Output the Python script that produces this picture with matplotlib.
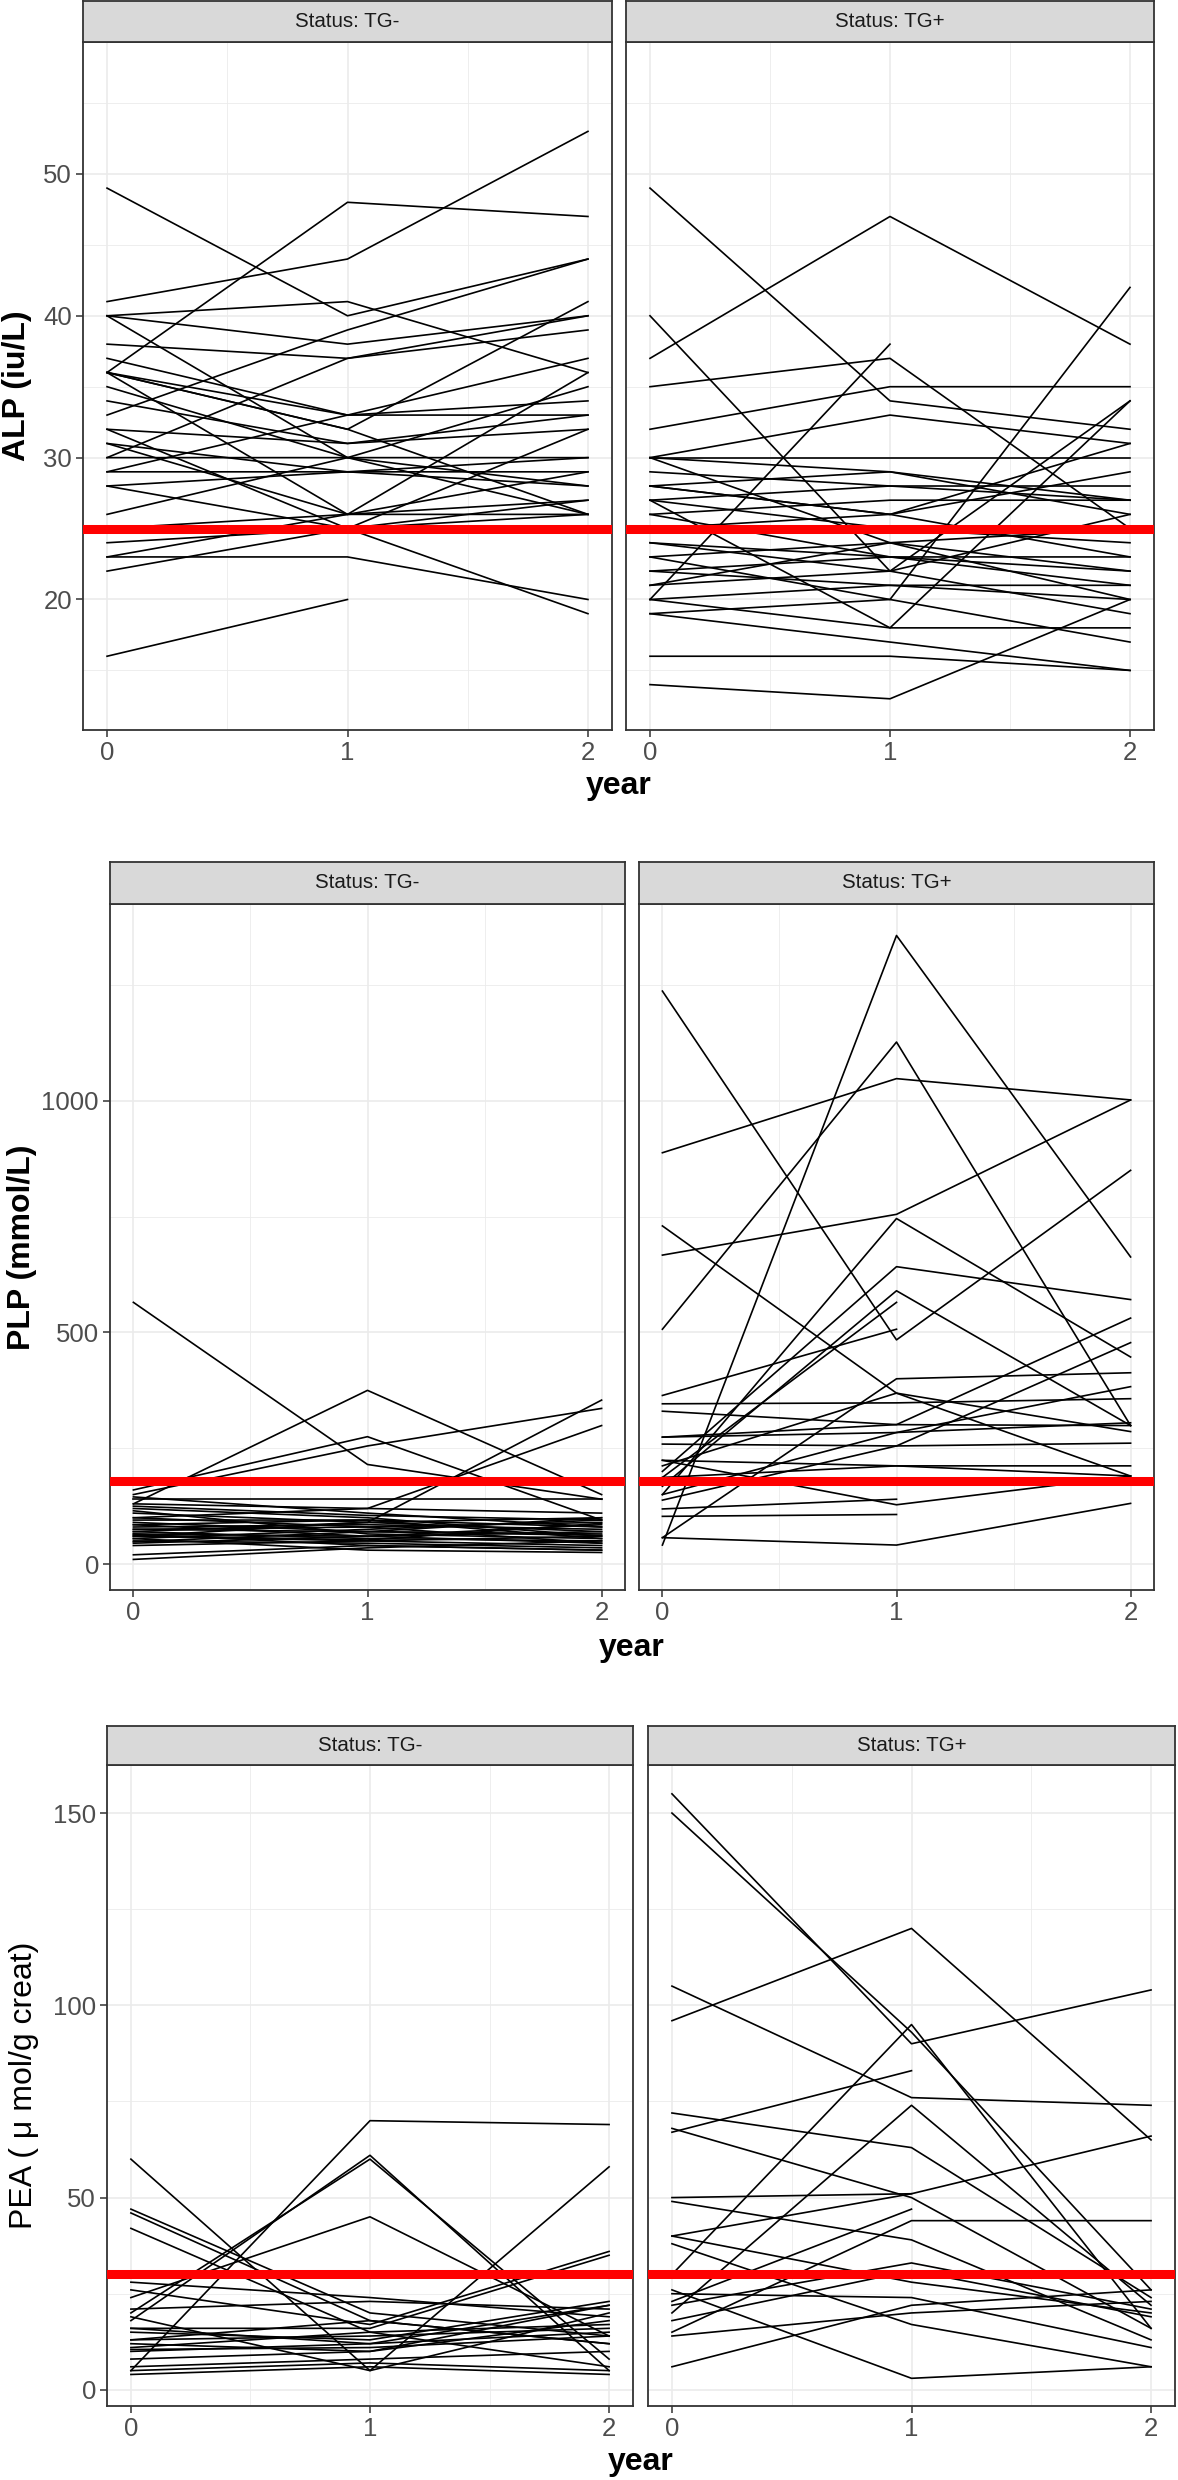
import numpy as np
import matplotlib
matplotlib.use("Agg")
import matplotlib.pyplot as plt

plt.rcParams['font.family'] = ['Liberation Sans', 'DejaVu Sans']

nan = np.nan
years = [0, 1, 2]
facets = ["Status: TG-", "Status: TG+"]

# one row per animal: value at year 0, 1, 2
alp_neg = [[36, 48, 47], [41, 44, 53], [49, 40, 44], [33, 39, 44], [40, 41, 36],
           [40, 38, 40], [38, 37, 39], [36, 32, 41], [30, 37, 40], [37, 33, 37],
           [36, 33, 34], [36, 32, 26], [35, 30, 26], [40, 30, 35], [34, 31, 33],
           [32, 31, 32], [32, 25, 19], [31, 29, 30], [30, 30, 28], [29, 29, 28],
           [28, 25, 27], [28, 29, 29], [26, 30, 30], [25, 26, 27], [24, 25, 26],
           [23, 26, 26], [23, 23, 20], [22, 25, 32], [16, 20, nan], [31, 26, 36],
           [36, 26, 29], [29, 33, 33]]
alp_pos = [[37, 47, 38], [49, 34, 32], [40, 22, 34], [20, 38, nan], [35, 37, 25],
           [32, 35, 35], [30, 33, 31], [23, 20, 42], [14, 13, 20], [16, 16, 15],
           [19, 17, 15], [20, 18, 18], [30, 30, 30], [27, 18, 34], [30, 29, 27],
           [28, 29, 26], [28, 26, 29], [27, 28, 28], [30, 24, 22], [27, 25, 24],
           [26, 23, 21], [24, 22, 19], [23, 24, 25], [22, 23, 23], [21, 22, 26],
           [20, 21, 20], [19, 20, 17], [28, 26, 31], [26, 27, 27], [25, 26, 23],
           [24, 23, 22], [22, 21, 21], [29, 28, 27], [21, 24, 20]]

plp_neg = [[565, 215, 140], [130, 375, 150], [160, 275, 95], [150, 255, 336],
           [60, 90, 354], [100, 120, 299], [140, 140, 140], [145, 110, 80],
           [120, 100, 60], [110, 90, 70], [100, 80, 90], [95, 95, 55],
           [90, 70, 100], [85, 60, 45], [80, 85, 75], [75, 70, 65], [70, 55, 50],
           [65, 60, 85], [60, 50, 40], [55, 75, 95], [50, 45, 35], [45, 60, 70],
           [40, 50, 60], [20, 40, 30], [10, 35, 50], [70, 90, 100],
           [130, 120, 110], [55, 30, 25], [85, 95, 80], [65, 40, 30],
           [125, 105, 95], [115, 65, 55], [75, 80, 45], [62, 52, 88], [48, 70, 62]]
plp_pos = [[1237, 484, 850], [888, 1048, 1002], [667, 755, 1002], [41, 1357, 663],
           [507, 1127, 299], [730, 369, 190], [150, 746, 447], [200, 642, 571],
           [168, 590, 299], [187, 565, nan], [364, 507, nan], [57, 400, 413],
           [346, 348, 357], [330, 301, 531], [274, 284, 383], [259, 255, 478],
           [224, 212, 190], [212, 369, 286], [138, 255, 261], [119, 140, nan],
           [103, 107, nan], [57, 41, 131], [224, 128, 190], [150, 284, 305],
           [187, 212, 212], [274, 301, 299]]

pea_neg = [[5, 70, 69], [18, 61, 5], [20, 60, 8], [24, 45, 14], [60, 5, 20],
           [47, 20, 14], [46, 18, 12], [42, 15, 6], [28, 24, 19], [26, 17, 36],
           [21, 23, 21], [19, 5, 58], [16, 16, 35], [15, 13, 23], [13, 18, 12],
           [12, 10, 18], [11, 15, 17], [10.5, 11, 14], [6, 8, 10], [5, 7, 5],
           [4, 6, 4], [16, 12, 22], [13, 14, 16], [10, 12, 15], [8, 10, 22]]
pea_pos = [[155, 90, 104], [150, 93, 26], [30, 95, 16], [96, 120, 65],
           [105, 76, 74], [72, 63, 24], [68, 50, 16], [67, 83, nan], [20, 74, 22],
           [50, 51, 66], [49, 39, 13], [40, 51, nan], [15, 44, 44], [6, 22, 26],
           [38, 17, 6], [26, 3, 6], [23, 47, nan], [22, 33, 21], [18, 31, 19],
           [40, 28, 20], [14, 20, 23], [25, 24, 11]]

cutoffs = [25, 180, 30]
ylabels = ["ALP (iu/L)", "PLP (mmol/L)", "PEA ( \u03bc mol/g creat)"]
ylabel_bold = [True, True, False]
yticks = [[20, 30, 40, 50], [0, 500, 1000], [0, 50, 100, 150]]
yminor = [[15, 25, 35, 45, 55], [250, 750, 1250], [25, 75, 125]]
ylims = [(10.8, 59.3), (-56, 1425), (-4.2, 162.5)]

# layout in pixels: (left_neg, right_neg, left_pos, right_pos, strip_top, panel_top, panel_bottom)
boxes = [(83, 612, 626, 1154, 1, 42, 730),
         (110, 625, 639, 1154, 862, 904, 1590),
         (107, 633, 648, 1175, 1726, 1765, 2406)]
ylab_x = [17, 22, 24]
xlab_y = [786, 1648, 2462]

W, H = 1178, 2480
fig = plt.figure(figsize=(W / 100, H / 100), dpi=100)

def fx(x):
    return x / W

def fy(y):
    return 1 - y / H

data = [(alp_neg, alp_pos), (plp_neg, plp_pos), (pea_neg, pea_pos)]

for i, (neg, pos) in enumerate(data):
    l0, r0, l1, r1, st, pt, pb = boxes[i]
    for j, (rows, (l, r)) in enumerate(zip([neg, pos], [(l0, r0), (l1, r1)])):
        ax = fig.add_axes([fx(l), fy(pb), fx(r - l), (pb - pt) / H])
        ax.set_xlim(-0.1, 2.1)
        ax.set_ylim(*ylims[i])
        for v in [0.5, 1.5]:
            ax.axvline(v, color='#EBEBEB', lw=0.6, zorder=0)
        for v in yminor[i]:
            ax.axhline(v, color='#EBEBEB', lw=0.6, zorder=0)
        for v in years:
            ax.axvline(v, color='#EBEBEB', lw=1.2, zorder=0)
        for v in yticks[i]:
            ax.axhline(v, color='#EBEBEB', lw=1.2, zorder=0)
        for row in rows:
            ax.plot(years, row, color='black', lw=1.2, zorder=2)
        ax.axhline(cutoffs[i], color='red', lw=6.5, zorder=3)
        for s in ax.spines.values():
            s.set_color('#333333')
            s.set_linewidth(1.3)
        ax.set_xticks(years)
        ax.set_xticklabels(['0', '1', '2'])
        ax.set_yticks(yticks[i])
        ax.tick_params(axis='both', color='#333333', length=5, width=1.1,
                       labelsize=18.5, labelcolor='#4D4D4D', pad=3)
        if j == 1:
            ax.tick_params(axis='y', left=False, labelleft=False)
        # facet strip
        sax = fig.add_axes([fx(l), fy(pt), fx(r - l), (pt - st) / H])
        sax.set_facecolor('#D9D9D9')
        sax.set_xticks([])
        sax.set_yticks([])
        for s in sax.spines.values():
            s.set_color('#333333')
            s.set_linewidth(1.3)
        sax.text(0.5, 0.5, facets[j], ha='center', va='center', fontsize=14.8,
                 color='#1A1A1A', transform=sax.transAxes)

    fig.text(fx(ylab_x[i]), fy((pt + pb) / 2), ylabels[i], rotation=90,
             ha='center', va='center', fontsize=23,
             fontweight='bold' if ylabel_bold[i] else 'normal')
    fig.text(fx((l0 + r1) / 2), fy(xlab_y[i]), 'year', ha='center', va='center',
             fontsize=23, fontweight='bold')

fig.savefig('out.png', dpi=100, facecolor='white')
